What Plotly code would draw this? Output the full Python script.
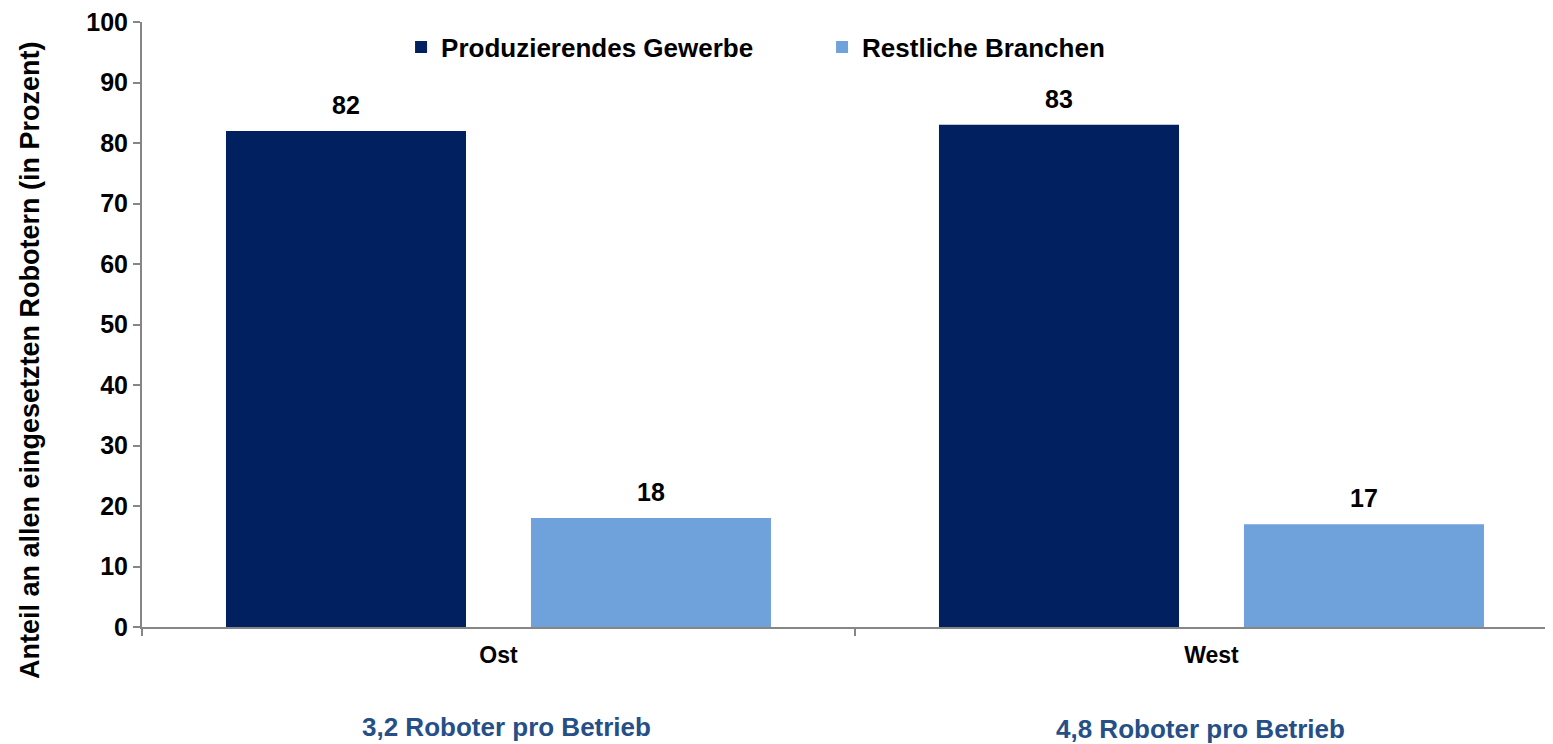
import plotly.graph_objects as go

categories = ["Ost", "West"]
series_names = ["Produzierendes Gewerbe", "Restliche Branchen"]
produzierend = [82, 83]
restliche = [18, 17]
notes = ["3,2 Roboter pro Betrieb", "4,8 Roboter pro Betrieb"]
y_ticks = [0, 10, 20, 30, 40, 50, 60, 70, 80, 90, 100]

dark = "#002060"
light = "#6FA1DB"
FONT = "Liberation Sans, Arial, sans-serif"

fig = go.Figure()
for name, vals, col in [(series_names[0], produzierend, dark), (series_names[1], restliche, light)]:
    fig.add_trace(go.Bar(
        x=categories, y=vals, name=name, marker=dict(color=col, line=dict(width=0)),
    ))

# value labels above each bar (bar centre offset within the group)
for vals, shift in [(produzierend, -152.5), (restliche, 152.5)]:
    for c, v in zip(categories, vals):
        fig.add_annotation(
            x=c, y=v, xref="x", yref="y", xshift=shift, yshift=26,
            text=f"<b>{v}</b>", showarrow=False,
            font=dict(family=FONT, size=25, color="black"),
            xanchor="center", yanchor="middle",
        )

fig.update_layout(
    width=1545, height=736,
    margin=dict(l=134, r=0, t=14, b=117),
    paper_bgcolor="white", plot_bgcolor="white",
    barmode="group", bargap=0.1445, bargroupgap=0.213,
    font=dict(family=FONT, size=20, color="black"),
    showlegend=True,
    legend=dict(orientation="h", x=0.1836, xanchor="left", y=0.9587, yanchor="middle",
                font=dict(family=FONT, size=26, color="black", weight="bold"),
                bgcolor="rgba(0,0,0,0)", itemwidth=30, entrywidth=376, entrywidthmode="pixels"),
)
fig.update_yaxes(
    range=[0, 100], tickvals=y_ticks, ticktext=[f"<b>{t}</b>" for t in y_ticks],
    showgrid=False, zeroline=False, showline=True, linecolor="#868686", linewidth=2,
    ticks="outside", ticklen=7, tickcolor="#868686", tickwidth=1.5,
    tickfont=dict(family=FONT, size=25, color="black"), ticklabeloverflow="allow",
)
fig.update_xaxes(
    range=[-0.5, 1.479], tickvals=categories, ticktext=[f"<b>{c}</b>" for c in categories],
    showgrid=False, showline=True, linecolor="#868686", linewidth=2,
    ticks="outside", tickson="boundaries", ticklen=7, tickcolor="#868686", tickwidth=1.5,
    tickfont=dict(family=FONT, size=23, color="black"), ticklabelstandoff=6,
)

fig.add_annotation(
    text="<b>Anteil an allen eingesetzten Robotern (in Prozent)</b>",
    xref="paper", yref="paper", x=-0.0794, y=0.4413, textangle=-90,
    showarrow=False, font=dict(family=FONT, size=27, color="black"),
    xanchor="center", yanchor="middle",
)
for xp, yp, t in [(0.258, -0.165, notes[0]), (0.7505, -0.1685, notes[1])]:
    fig.add_annotation(
        text=f"<b>{t}</b>", xref="paper", yref="paper", x=xp, y=yp,
        showarrow=False, font=dict(family=FONT, size=26, color="#254F86"),
        xanchor="center", yanchor="middle",
    )

fig.write_html("out.html")
